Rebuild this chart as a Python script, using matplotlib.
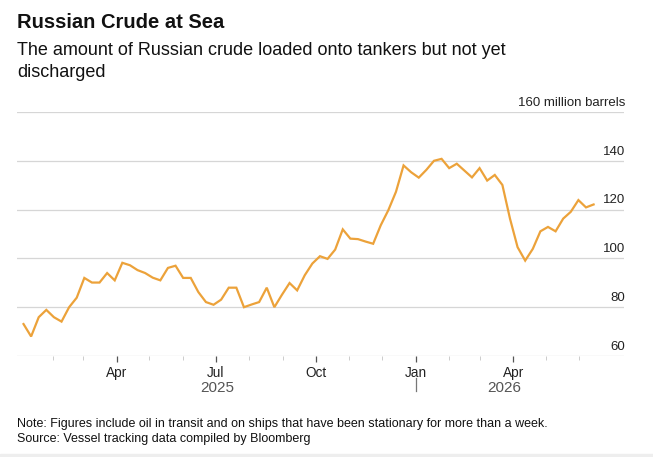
import matplotlib.pyplot as plt
import matplotlib.transforms as mtransforms
import pandas as pd

plt.rcParams['font.family'] = ['Liberation Sans', 'DejaVu Sans']

# weekly readings, million barrels
weeks = pd.date_range('2025-01-05', periods=76, freq='7D')
crude_at_sea = [73.1, 68.0, 75.9, 78.9, 75.9, 74.1, 80.0, 83.9, 92.0, 90.1,
                90.1, 94.0, 91.0, 98.2, 97.2, 95.2, 94.0, 92.1, 91.0, 96.1,
                97.0, 92.0, 92.0, 86.2, 82.1, 81.0, 83.1, 88.0, 88.0, 80.0,
                81.1, 82.1, 88.0, 80.0, 85.1, 89.9, 86.9, 93.1, 97.9, 100.9,
                99.8, 103.6, 111.9, 108.1, 107.9, 106.9, 106.0, 113.6, 119.8, 127.3,
                138.1, 135.3, 133.1, 136.3, 140.0, 140.8, 137.0, 138.8, 136.0, 133.2,
                137.0, 131.9, 134.2, 130.1, 116.3, 104.6, 99.1, 103.9, 111.1, 112.9,
                111.1, 116.3, 119.1, 123.9, 120.9, 122.1]

y_ticks = [60, 80, 100, 120, 140, 160]
y_labels = ['60', '80', '100', '120', '140', '160 million barrels']
month_ticks = pd.to_datetime(['2025-04-01', '2025-07-01', '2025-10-01', '2026-01-01', '2026-04-01'])
month_labels = ['Apr', 'Jul', 'Oct', 'Jan', 'Apr']
minor_ticks = pd.date_range('2025-02-01', '2026-06-01', freq='MS')
years = ['2025', '2026']
year_pos = pd.to_datetime(['2025-07-02', '2026-03-24'])

W, H = 653, 457
fig = plt.figure(figsize=(W / 100, H / 100), dpi=100)
ax = fig.add_axes([17 / W, 1 - 356 / H, 607 / W, 244 / H])

ax.plot(weeks, crude_at_sea, color='#eca23a', lw=1.6, solid_joinstyle='miter', zorder=3)

ax.set_xlim(pd.Timestamp('2024-12-30'), pd.Timestamp('2026-07-12'))
ax.set_ylim(60, 160)

for v in y_ticks:
    ax.axhline(v, color='#d6d6d6', lw=0.9, zorder=1)
for v, lab in zip(y_ticks, y_labels):
    ax.annotate(lab, xy=(1.0, v), xycoords=('axes fraction', 'data'),
                xytext=(1, 4.5), textcoords='offset points',
                ha='right', va='baseline', fontsize=9.5, color='#222222')

for s in ax.spines.values():
    s.set_visible(False)
ax.set_yticks([])

ax.set_xticks(month_ticks)
ax.set_xticklabels(month_labels)
ax.set_xticks(minor_ticks, minor=True)
ax.tick_params(axis='x', which='major', length=4, width=0.9, color='#555555',
               labelsize=9.8, labelcolor='#222222', pad=3.5)
ax.tick_params(axis='x', which='minor', length=3, width=0.7, color='#cccccc')

trans = mtransforms.blended_transform_factory(ax.transData, ax.transAxes)
for pos, yr in zip(year_pos, years):
    ax.text(pos, -36 / 244, yr, transform=trans, ha='center', va='baseline',
            fontsize=11, color='#555555')
ax.plot([pd.Timestamp('2026-01-01')] * 2, [-22 / 244, -35 / 244], transform=trans,
        color='#777777', lw=0.9, clip_on=False)

fig.text(17 / W, 1 - 28.3 / H, 'Russian Crude at Sea', fontsize=14.5, fontweight='bold',
         ha='left', va='baseline', color='#111111')
fig.text(17 / W, 1 - 55 / H, 'The amount of Russian crude loaded onto tankers but not yet',
         fontsize=13, ha='left', va='baseline', color='#111111')
fig.text(17 / W, 1 - 77.3 / H, 'discharged', fontsize=13, ha='left', va='baseline',
         color='#111111')
fig.text(17 / W, 1 - 427.3 / H,
         'Note: Figures include oil in transit and on ships that have been stationary for more than a week.',
         fontsize=9, ha='left', va='baseline', color='#111111')
fig.text(17 / W, 1 - 442.3 / H, 'Source: Vessel tracking data compiled by Bloomberg',
         fontsize=9, ha='left', va='baseline', color='#111111')

fig.patches.append(plt.Rectangle((0, 0), 1, 3 / H, transform=fig.transFigure,
                                 color='#eeeeee', zorder=0))

fig.savefig('out.png', dpi=100)
